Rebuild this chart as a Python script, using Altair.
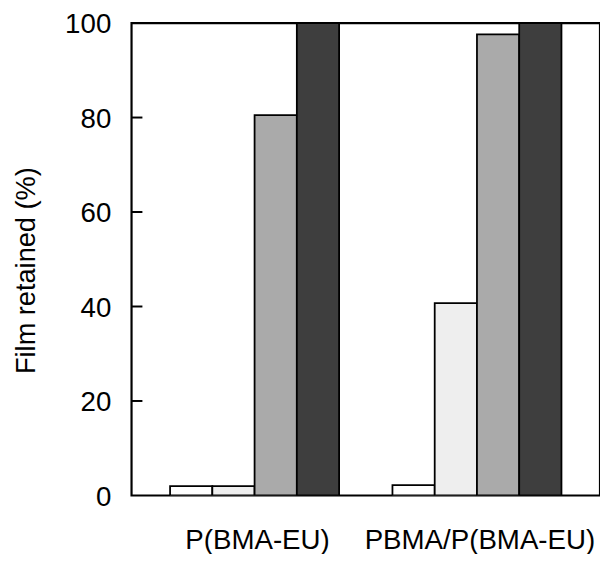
import altair as alt
import pandas as pd

groups = ["P(BMA-EU)", "PBMA/P(BMA-EU)"]
series = ["s1", "s2", "s3", "s4"]
colors = ["#ffffff", "#eeeeee", "#aaaaaa", "#3e3e3e"]
vals_g1 = [2.0, 2.0, 80.5, 100]
vals_g2 = [2.2, 40.7, 97.6, 100]
y_ticks = [0, 20, 40, 60, 80, 100]
inner_ticks = [20, 40, 60, 80]

rows = []
for g, vals in zip(groups, [vals_g1, vals_g2]):
    for s, v in zip(series, vals):
        rows.append({"group": g, "series": s, "value": v})
df = pd.DataFrame(rows)
tick_df = pd.DataFrame({"t": inner_ticks})

FONT = "Liberation Sans"
FS = 28

yscale = alt.Scale(domain=[0, 100], nice=False, zero=True)

bars = alt.Chart(df).mark_bar(stroke="black", strokeWidth=1.8, clip=True).encode(
    x=alt.X("group:N", sort=groups,
            scale=alt.Scale(paddingInner=0.24, paddingOuter=0.1733),
            axis=alt.Axis(title=None, ticks=False, domain=False, labelAngle=0,
                          labelFontSize=FS, labelFont=FONT, labelColor="black",
                          labelPadding=32, labelBaseline="top", labelLimit=0,
                          labelOverlap=False, labelOffset=3)),
    xOffset=alt.XOffset("series:N", sort=series, scale=alt.Scale(paddingInner=0, paddingOuter=0)),
    y=alt.Y("value:Q", scale=yscale,
            axis=alt.Axis(title="Film retained (%)", values=y_ticks, ticks=False, domain=False,
                          grid=False, labelFontSize=FS, labelFont=FONT, labelColor="black",
                          labelPadding=21, labelBaseline="middle", labelOffset=2,
                          titleFont=FONT, titleFontSize=27.5, titleFontWeight="normal",
                          titleColor="black", titleAngle=270, titleX=-98, titleY=250,
                          titleAlign="center", titleBaseline="alphabetic")),
    color=alt.Color("series:N", sort=series,
                    scale=alt.Scale(domain=series, range=colors), legend=None),
)

ticks = alt.Chart(tick_df).mark_rule(color="black", strokeWidth=2).encode(
    x=alt.value(0), x2=alt.value(11),
    y=alt.Y("t:Q", scale=yscale),
)

chart = alt.layer(bars, ticks).properties(
    width=474, height=478,
    background="white",
    autosize=alt.AutoSizeParams(type="none"),
    padding={"left": 125, "top": 12, "right": 0, "bottom": 56},
).configure_view(stroke="black", strokeWidth=2.2)

chart.save("out.html", embed_options={"renderer": "svg", "actions": False})
